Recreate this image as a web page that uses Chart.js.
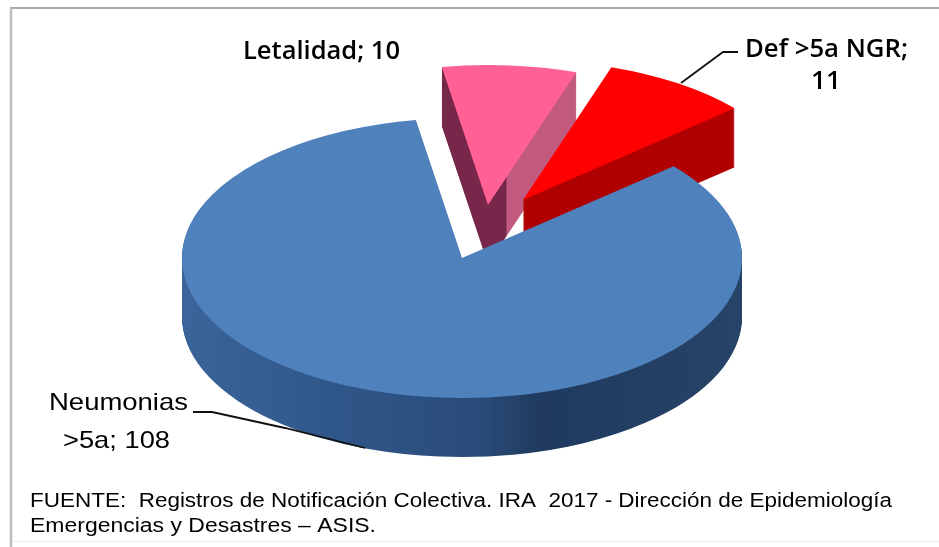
<!DOCTYPE html>
<html>
<head>
<meta charset="utf-8">
<style>
  html, body { margin: 0; padding: 0; background: #fff; }
  #box { position: absolute; left: 0; top: 0; width: 939px; height: 547px; }
</style>
</head>
<body>
<div id="box"><canvas id="pie"></canvas></div>
<script src="https://cdn.jsdelivr.net/npm/chart.js@4"></script>
<script>
// drawn back to front, so the big slice goes last
const categories = ['Letalidad', 'Def >5a NGR', 'Neumonias >5a'];
const values = [10, 11, 108];
const topColors = ['#FF6194', '#FF0000', '#4F81BD'];
const labelLines = [['Letalidad; 10'], ['Def >5a NGR;', '11'], ['Neumonias', '>5a; 108']];
const footnote = [
  'FUENTE:  Registros de Notificación Colectiva. IRA  2017 - Dirección de Epidemiología',
  'Emergencias y Desastres – ASIS.'
];

const pieCenter = { x: 462, y: 258 };
const squash = 0.5;
const depth = 59;
const sliceShift = [{ x: 26, y: -53 }, { x: 61, y: -58 }, { x: 0, y: 0 }];
// centre x, centre y, width of each label line
const labelPos = [
  [[321.5, 52, 157]],
  [[826.5, 50, 163], [826, 82, 30]],
  [[118.5, 403, 139], [116.5, 441, 107]]
];
const footPos = [[30, 501, 862], [30, 526, 346]];

function sideFill(ctx, i, apexX) {
  if (i === 2) {
    const g = ctx.createLinearGradient(182, 0, 742, 0);
    g.addColorStop(0, '#3C659B');
    g.addColorStop(0.3, '#2F5688');
    g.addColorStop(0.55, '#2A4B79');
    g.addColorStop(0.65, '#1F3A5E');
    g.addColorStop(1, '#264468');
    return g;
  }
  if (i === 0) {
    const g = ctx.createLinearGradient(apexX - 1, 0, apexX + 1, 0);
    g.addColorStop(0, '#76274A');
    g.addColorStop(1, '#C25A80');
    return g;
  }
  return '#B00000';
}

// fillText only shrinks to a width, the reference text is stretched too
function fitText(ctx, text, x, y, width, align) {
  const w = ctx.measureText(text).width;
  ctx.save();
  ctx.translate(x, y);
  ctx.scale(width / w, 1);
  ctx.textAlign = align;
  ctx.fillText(text, 0, 0);
  ctx.restore();
}

const pie3d = {
  id: 'pie3d',
  beforeDatasetDraw(chart) {
    const ctx = chart.ctx;
    chart.getDatasetMeta(0).data.forEach((arc, i) => {
      const base = arc.options;
      const apexX = pieCenter.x + sliceShift[i].x;
      // side wall: the same arc repeated downwards
      const side = Object.create(base);
      side.backgroundColor = sideFill(ctx, i, apexX);
      arc.options = side;
      for (let d = depth; d > 0; d--) {
        ctx.save();
        ctx.translate(apexX, pieCenter.y + sliceShift[i].y + d);
        ctx.scale(1, squash);
        ctx.translate(-arc.x, -arc.y);
        arc.draw(ctx);
        ctx.restore();
      }
      arc.options = base;
      ctx.save();
      ctx.translate(apexX, pieCenter.y + sliceShift[i].y);
      ctx.scale(1, squash);
      ctx.translate(-arc.x, -arc.y);
      arc.draw(ctx);
      ctx.restore();
    });
    return false;
  },
  afterDraw(chart) {
    const ctx = chart.ctx;
    ctx.save();
    // frame, only the top and left are really visible
    ctx.strokeStyle = '#8C8C8C';
    ctx.lineWidth = 1.5;
    ctx.beginPath(); ctx.moveTo(10, 8); ctx.lineTo(939, 8); ctx.stroke();
    ctx.strokeStyle = '#BDBDBD';
    ctx.lineWidth = 2.5;
    ctx.beginPath(); ctx.moveTo(11, 8); ctx.lineTo(11, 547); ctx.stroke();
    ctx.strokeStyle = '#EDEDED';
    ctx.lineWidth = 1;
    ctx.beginPath(); ctx.moveTo(12, 541.5); ctx.lineTo(939, 541.5); ctx.stroke();
    // leader lines
    ctx.strokeStyle = '#111';
    ctx.lineWidth = 1.8;
    ctx.beginPath();
    ctx.moveTo(681, 83); ctx.lineTo(723, 52); ctx.lineTo(738, 52);
    ctx.moveTo(193, 412); ctx.lineTo(212, 412); ctx.lineTo(285, 428); ctx.lineTo(365, 448);
    ctx.stroke();
    // data labels
    ctx.fillStyle = '#000';
    ctx.textBaseline = 'middle';
    labelLines.forEach((lines, i) => {
      ctx.font = i === 2 ? '24px "Liberation Sans"' : '600 26px "Open Sans"';
      lines.forEach((line, j) => {
        const p = labelPos[i][j];
        fitText(ctx, line, p[0], p[1], p[2], 'center');
      });
    });
    // source note
    ctx.font = '20px "Liberation Sans"';
    footnote.forEach((line, i) => {
      const p = footPos[i];
      fitText(ctx, line, p[0], p[1], p[2], 'left');
    });
    ctx.restore();
  }
};

new Chart(document.getElementById('pie').getContext('2d'), {
  type: 'pie',
  data: {
    labels: categories,
    datasets: [{
      data: values,
      backgroundColor: topColors,
      borderWidth: 0
    }]
  },
  options: {
    responsive: true,
    maintainAspectRatio: false,
    animation: false,
    rotation: -9.5,
    radius: 280,
    plugins: { legend: { display: false }, tooltip: { enabled: false } }
  },
  plugins: [pie3d]
});
</script>
</body>
</html>
